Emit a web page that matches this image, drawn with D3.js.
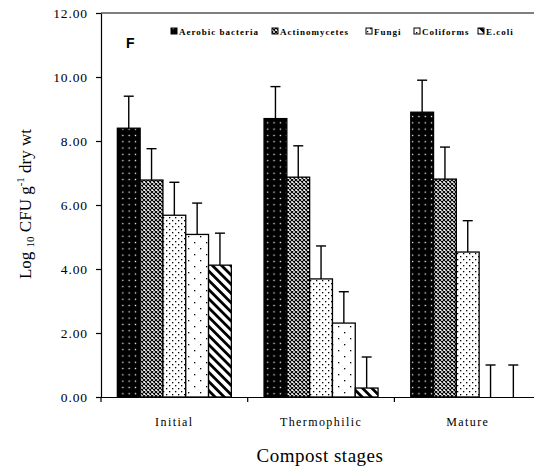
<!DOCTYPE html>
<html><head><meta charset="utf-8">
<script src="https://cdn.jsdelivr.net/npm/d3@7"></script>
<style>body{margin:0;background:#fff}svg{display:block}</style>
</head><body>
<script>
const stages = ["Initial", "Thermophilic", "Mature"];
const seriesNames = ["Aerobic bacteria", "Actinomycetes", "Fungi", "Coliforms", "E.coli"];
const aerobic = [8.40, 8.70, 8.90];
const actino = [6.78, 6.87, 6.81];
const fungi = [5.68, 3.69, 4.53];
const coliforms = [5.08, 2.31, 0];
const ecoli = [4.12, 0.28, 0];
const errAerobic = [1.0, 1.0, 1.0];
const errActino = [0.98, 0.98, 1.0];
const errFungi = [1.03, 1.03, 0.98];
const errColiforms = [0.98, 0.98, 1.0];
const errEcoli = [1.0, 0.97, 1.0];
const yTicks = [0, 2, 4, 6, 8, 10, 12];

const values = [aerobic, actino, fungi, coliforms, ecoli];
const errors = [errAerobic, errActino, errFungi, errColiforms, errEcoli];
const patterns = ["pA", "pB", "pC", "pD", "pE"];

const W = 534, H = 469;
const svg = d3.select("body").append("svg").attr("width", W).attr("height", H);
const defs = svg.append("defs");

// Aerobic: black with white dots
let p = defs.append("pattern").attr("id", "pA").attr("patternUnits", "userSpaceOnUse").attr("width", 6.3).attr("height", 6.3);
p.append("rect").attr("width", 6.3).attr("height", 6.3).attr("fill", "#000");
p.append("rect").attr("x", 2.5).attr("y", 2.5).attr("width", 1.3).attr("height", 1.3).attr("fill", "#fff");
// Actinomycetes: dense cross-hatch
p = defs.append("pattern").attr("id", "pB").attr("patternUnits", "userSpaceOnUse").attr("width", 4).attr("height", 4);
p.append("rect").attr("width", 4).attr("height", 4).attr("fill", "#fff");
p.append("path").attr("d", "M0,0L4,4M4,0L0,4").attr("stroke", "#000").attr("stroke-width", 1.1);
p.append("rect").attr("x", 1.5).attr("y", 1.5).attr("width", 1).attr("height", 1).attr("fill", "#000");
// Fungi: dense dots staggered
p = defs.append("pattern").attr("id", "pC").attr("patternUnits", "userSpaceOnUse").attr("width", 6).attr("height", 6);
p.append("rect").attr("width", 6).attr("height", 6).attr("fill", "#fff");
p.append("rect").attr("x", 1).attr("y", 1).attr("width", 1.3).attr("height", 1.3).attr("fill", "#000");
p.append("rect").attr("x", 4).attr("y", 4).attr("width", 1.3).attr("height", 1.3).attr("fill", "#000");
// Coliforms: sparse dots
p = defs.append("pattern").attr("id", "pD").attr("patternUnits", "userSpaceOnUse").attr("width", 12).attr("height", 12);
p.append("rect").attr("width", 12).attr("height", 12).attr("fill", "#fff");
p.append("rect").attr("x", 2).attr("y", 2).attr("width", 1.3).attr("height", 1.3).attr("fill", "#000");
p.append("rect").attr("x", 8).attr("y", 8).attr("width", 1.3).attr("height", 1.3).attr("fill", "#000");
// E.coli: thick diagonal stripes "\"
p = defs.append("pattern").attr("id", "pE").attr("patternUnits", "userSpaceOnUse").attr("width", 6.5).attr("height", 6.5)
  .attr("patternTransform", "rotate(-45)");
p.append("rect").attr("width", 6.5).attr("height", 6.5).attr("fill", "#fff");
p.append("rect").attr("x", 0).attr("y", 0).attr("width", 2.8).attr("height", 6.5).attr("fill", "#000");

const x0 = 101, yTop = 13, yBase = 397;
const bandW = 146.7;
const x = d3.scaleBand().domain(stages).range([x0, x0 + bandW * 3]).paddingInner(0).paddingOuter(0);
const y = d3.scaleLinear().domain([0, 12]).range([yBase, yTop]);
const barW = 22.8;
const groupW = barW * 5;
const xs = d3.scaleBand().domain(seriesNames).range([0, groupW]).padding(0);

const font = "'Liberation Serif', 'Times New Roman', serif";

// frame top line
svg.append("line").attr("x1", x0).attr("x2", W).attr("y1", yTop).attr("y2", yTop).attr("stroke", "#000").attr("stroke-width", 1.2);

// bars
stages.forEach((st, i) => {
  const gx = x(st) + (bandW - groupW) / 2;
  seriesNames.forEach((s, k) => {
    const v = values[k][i];
    const bx = gx + xs(s);
    const e = errors[k][i];
    const cx = bx + barW / 2;
    svg.append("line").attr("x1", cx).attr("x2", cx).attr("y1", y(v)).attr("y2", y(v + e)).attr("stroke", "#000").attr("stroke-width", 1.4);
    svg.append("line").attr("x1", cx - 5).attr("x2", cx + 5).attr("y1", y(v + e)).attr("y2", y(v + e)).attr("stroke", "#000").attr("stroke-width", 1.4);
    if (v > 0) {
      svg.append("rect").attr("x", bx).attr("y", y(v)).attr("width", barW).attr("height", y(0) - y(v))
        .attr("fill", `url(#${patterns[k]})`).attr("stroke", "#000").attr("stroke-width", 1.3);
    }
  });
});

// y axis
const yAxis = d3.axisLeft(y).tickValues(yTicks).tickFormat(d3.format(".2f")).tickSize(5).tickSizeOuter(0);
const gy = svg.append("g").attr("transform", `translate(${x0},0)`).call(yAxis);
gy.attr("font-family", null);
gy.select(".domain").attr("stroke-width", 1.2);
gy.selectAll("line").attr("stroke-width", 1.2);
gy.selectAll("text").style("font-family", font).style("font-size", "13.5px").style("letter-spacing", "0.9px")
  .attr("fill", "#000").attr("x", -13).attr("dy", "0.35em");

// x axis
const xAxis = d3.axisBottom(x).tickSize(0).tickSizeOuter(0);
const gx = svg.append("g").attr("transform", `translate(0,${yBase})`).call(xAxis);
gx.attr("font-family", null);
gx.select(".domain").attr("stroke-width", 1.2).attr("d", `M${x0},0.5H${W}`);
gx.selectAll("text").style("font-family", font).style("font-size", "12px").style("letter-spacing", "1.4px")
  .attr("fill", "#000").attr("y", 29).attr("dy", 0);
stages.forEach(st => {
  svg.append("line").attr("x1", x(st)).attr("x2", x(st)).attr("y1", yBase).attr("y2", yBase + 5).attr("stroke", "#000").attr("stroke-width", 1.2);
});

// axis titles
const yt = svg.append("text").attr("transform", "translate(31,204) rotate(-90)").attr("text-anchor", "middle")
  .style("font-family", font).style("font-size", "17px").attr("fill", "#000");
yt.append("tspan").text("Log ");
yt.append("tspan").style("font-size", "11px").attr("dy", 3).text("10");
yt.append("tspan").attr("dy", -3).text(" CFU g");
yt.append("tspan").style("font-size", "11px").attr("dy", -7).text("-1");
yt.append("tspan").attr("dy", 7).text(" dry wt");

svg.append("text").attr("x", 320).attr("y", 462).attr("text-anchor", "middle").style("font-family", font)
  .style("font-size", "19px").style("letter-spacing", "0.5px").attr("fill", "#000").text("Compost stages");

// panel letter
svg.append("text").attr("x", 126).attr("y", 48).style("font-family", "'Liberation Sans', Arial, sans-serif")
  .style("font-size", "14px").style("font-weight", "bold").attr("fill", "#000").text("F");

// legend
const legX = [171, 272, 366, 414, 478];
seriesNames.forEach((s, k) => {
  svg.append("rect").attr("x", legX[k]).attr("y", 28).attr("width", 6).attr("height", 6)
    .attr("fill", `url(#${patterns[k]})`).attr("stroke", "#000").attr("stroke-width", 1);
  svg.append("text").attr("x", legX[k] + 8).attr("y", 35).style("font-family", font).style("font-size", "9px")
    .style("font-weight", "bold").style("letter-spacing", "1px").attr("fill", "#000").text(s);
});
</script>
</body></html>
